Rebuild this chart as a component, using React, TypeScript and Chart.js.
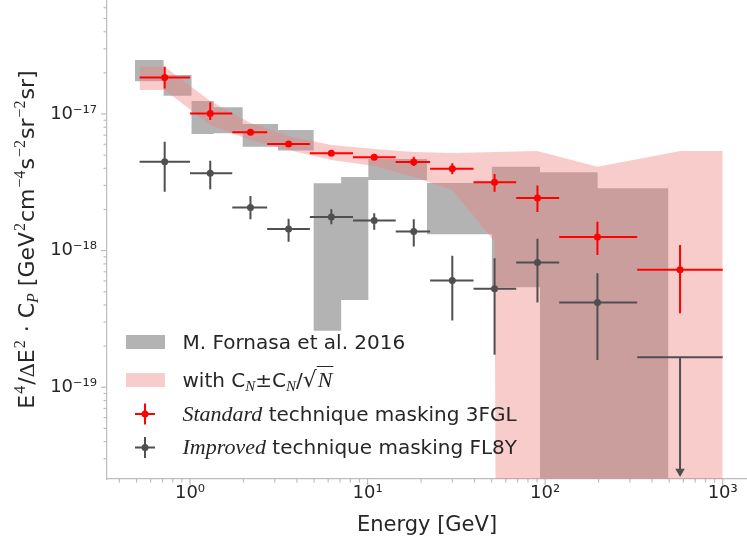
import React, { useEffect, useRef } from 'react';
import { Chart, registerables } from 'chart.js';

Chart.register(...registerables);

// ---- Energy bins (GeV) ----
const energy = [0.72, 1.3, 2.19, 3.59, 6.25, 10.9, 18.2, 30.0, 51.9, 90.5, 197, 575];
const energyLow = [0.52, 1.0, 1.73, 2.72, 4.73, 8.28, 14.4, 22.5, 39.5, 68.7, 120, 330];
const energyHigh = [1.0, 1.73, 2.72, 4.73, 8.28, 14.4, 22.5, 39.5, 68.7, 120, 330, 1000];

// ---- Standard technique masking 3FGL ----
const standardVal = [1.85e-17, 1.01e-17, 7.35e-18, 6.04e-18, 5.16e-18, 4.82e-18, 4.46e-18, 3.98e-18, 3.16e-18, 2.43e-18, 1.26e-18, 7.23e-19];
const standardLow = [1.54e-17, 9.04e-18, 7.05e-18, 5.78e-18, 4.98e-18, 4.62e-18, 4.17e-18, 3.62e-18, 2.7e-18, 1.92e-18, 9.3e-19, 3.48e-19];
const standardHigh = [2.22e-17, 1.22e-17, 7.66e-18, 6.29e-18, 5.34e-18, 5.03e-18, 4.87e-18, 4.36e-18, 3.64e-18, 3.0e-18, 1.63e-18, 1.1e-18];

// ---- Improved technique masking FL8Y ----
const improvedVal = [4.48e-18, 3.68e-18, 2.07e-18, 1.44e-18, 1.76e-18, 1.66e-18, 1.38e-18, 6.04e-19, 5.25e-19, 8.17e-19, 4.17e-19, 1.66e-19];
const improvedLow = [2.7e-18, 2.81e-18, 1.7e-18, 1.16e-18, 1.56e-18, 1.42e-18, 1.07e-18, 3.08e-19, 1.73e-19, 4.17e-19, 1.58e-19, 2.42e-20];
const improvedHigh = [6.26e-18, 4.55e-18, 2.51e-18, 1.71e-18, 2.01e-18, 1.88e-18, 1.7e-18, 9.19e-19, 8.79e-19, 1.22e-18, 6.84e-19, 1.66e-19];
const improvedUpperLimit = [false, false, false, false, false, false, false, false, false, false, false, true];

// ---- C_N ± C_N/sqrt(N) band (at bin centres); BELOW_ZERO = lower edge below zero (off the log axis) ----
const BELOW_ZERO = 1e-100;
const bandUpper = [2.22e-17, 1.245e-17, 8.59e-18, 6.9e-18, 5.93e-18, 5.55e-18, 5.27e-18, 5.19e-18, 5.27e-18, 5.36e-18, 4.11e-18, 5.36e-18];
const bandLower = [1.5e-17, 8.31e-18, 6.45e-18, 5.46e-18, 4.61e-18, 4.17e-18, 3.46e-18, 2.78e-18, 1.16e-18, BELOW_ZERO, BELOW_ZERO, BELOW_ZERO];

// ---- M. Fornasa et al. 2016 ----
const fornasaELow = [0.49, 0.71, 1.02, 1.36, 1.98, 3.13, 4.97, 7.1, 10.1, 21.6, 50.1, 93.5, 197.5];
const fornasaEHigh = [0.71, 1.02, 1.36, 1.98, 3.13, 4.97, 7.1, 10.1, 21.6, 50.1, 93.5, 197.5, 495];
const fornasaMin = [1.74e-17, 1.36e-17, 7.14e-18, 7.22e-18, 5.77e-18, 5.4e-18, 2.59e-19, 4.35e-19, 3.29e-18, 1.32e-18, 5.4e-19, BELOW_ZERO, BELOW_ZERO];
const fornasaMax = [2.48e-17, 1.93e-17, 1.245e-17, 1.12e-17, 8.45e-18, 7.64e-18, 3.11e-18, 3.46e-18, 4.68e-18, 3.12e-18, 4.11e-18, 3.75e-18, 2.86e-18];

// ---- Axes ----
const xMin = 0.3408;
const xMax = 1370;
const yMin = 2.13e-20;
const yMax = 6.83e-17;
const xTickValues = [1, 10, 100, 1000];
const xTickLabels = ['10\u2070', '10\u00B9', '10\u00B2', '10\u00B3'];
const yTickValues = [1e-19, 1e-18, 1e-17];
const yTickLabels = ['10\u207B\u00B9\u2079', '10\u207B\u00B9\u2078', '10\u207B\u00B9\u2077'];

const RED = '#ff0000';
const DARK = '#4f4f4f';
const GRAY = '#b3b3b3';
const PINK = 'rgba(240,128,128,0.4)';
const AXIS = '#bdbdbd';
const TEXT = '#262626';
const SANS = '"DejaVu Sans"';
const SERIF = '"Liberation Serif"';

function minorValues(min: number, max: number): number[] {
  const out: number[] = [];
  for (let d = Math.floor(Math.log10(min)); d <= Math.ceil(Math.log10(max)); d++) {
    for (let k = 2; k <= 9; k++) {
      const v = k * Math.pow(10, d);
      if (v >= min && v <= max) out.push(v);
    }
  }
  return out;
}

function crossData(vals: number[], lows: number[], highs: number[]) {
  const pts: any[] = [];
  for (let i = 0; i < vals.length; i++) {
    pts.push({ x: energyLow[i], y: vals[i] }, { x: energyHigh[i], y: vals[i] }, { x: energy[i], y: null });
    pts.push({ x: energy[i], y: lows[i] }, { x: energy[i], y: highs[i] }, { x: energy[i], y: null });
  }
  return pts;
}

type Seg = { t: string; font: string; dy?: number; dx?: number };

function drawRich(ctx: CanvasRenderingContext2D, segs: Seg[], x: number, y: number, align: 'left' | 'center') {
  let total = 0;
  for (const s of segs) {
    ctx.font = s.font;
    total += ctx.measureText(s.t).width + (s.dx || 0);
  }
  let cx = align === 'center' ? x - total / 2 : x;
  const pos: number[] = [];
  for (const s of segs) {
    ctx.font = s.font;
    cx += s.dx || 0;
    pos.push(cx);
    ctx.fillText(s.t, cx, y + (s.dy || 0));
    cx += ctx.measureText(s.t).width;
  }
  return pos.concat([cx]);
}

const decorPlugin = {
  id: 'decor',
  afterDraw(chart: any) {
    const ctx: CanvasRenderingContext2D = chart.ctx;
    const xs = chart.scales.x;
    const ys = chart.scales.y;
    const area = chart.chartArea;
    ctx.save();
    // tick marks
    ctx.strokeStyle = AXIS;
    ctx.lineWidth = 1.2;
    const tick = (x1: number, y1: number, x2: number, y2: number) => {
      ctx.beginPath();
      ctx.moveTo(x1, y1);
      ctx.lineTo(x2, y2);
      ctx.stroke();
    };
    for (const v of xTickValues) {
      const p = xs.getPixelForValue(v);
      tick(p, area.bottom, p, area.bottom + 6);
    }
    for (const v of minorValues(xMin, xMax)) {
      const p = xs.getPixelForValue(v);
      tick(p, area.bottom, p, area.bottom + 3.5);
    }
    for (const v of yTickValues) {
      const p = ys.getPixelForValue(v);
      tick(area.left, p, area.left - 6, p);
    }
    for (const v of minorValues(yMin, yMax)) {
      const p = ys.getPixelForValue(v);
      tick(area.left, p, area.left - 3.5, p);
    }

    // y axis title (rich text)
    ctx.fillStyle = TEXT;
    ctx.textBaseline = 'alphabetic';
    ctx.textAlign = 'left';
    ctx.save();
    ctx.translate(34, (area.top + area.bottom) / 2);
    ctx.rotate(-Math.PI / 2);
    const f = `22px ${SANS}`;
    const sup = `16px ${SERIF}`;
    drawRich(ctx, [
      { t: 'E', font: f },
      { t: '4', font: sup, dy: -9, dx: 1 },
      { t: '/', font: f, dx: 1 },
      { t: '\u0394', font: `22px ${SERIF}` },
      { t: 'E', font: f },
      { t: '2', font: sup, dy: -9, dx: 1 },
      { t: ' \u00B7 C', font: f, dx: 1 },
      { t: 'P', font: `italic 16px ${SERIF}`, dy: 4 },
      { t: ' [GeV', font: f },
      { t: '2', font: sup, dy: -9, dx: 1 },
      { t: 'cm', font: f, dx: 1 },
      { t: '\u22124', font: sup, dy: -9, dx: 1 },
      { t: 's', font: f, dx: 1 },
      { t: '\u22122', font: sup, dy: -9, dx: 1 },
      { t: 'sr', font: f, dx: 1 },
      { t: '\u22122', font: sup, dy: -9, dx: 1 },
      { t: 'sr]', font: f, dx: 1 },
    ], 0, 0, 'center');
    ctx.restore();

    // legend
    const lx = 126;
    const tx = 182.5;
    const lf = `20px ${SANS}`;
    ctx.fillStyle = GRAY;
    ctx.fillRect(lx, 335, 39, 14);
    ctx.fillStyle = PINK;
    ctx.fillRect(lx, 373, 39, 14);
    ctx.fillStyle = TEXT;
    ctx.font = lf;
    ctx.fillText('M. Fornasa et al. 2016', tx, 349.3);
    const pos = drawRich(ctx, [
      { t: 'with C', font: lf },
      { t: 'N', font: `italic 15px ${SERIF}`, dy: 4 },
      { t: '\u00B1C', font: lf },
      { t: 'N', font: `italic 15px ${SERIF}`, dy: 4 },
      { t: '/', font: lf },
      { t: '\u221A', font: `22px ${SANS}` },
      { t: 'N', font: `italic 22px ${SERIF}`, dx: 1 },
    ], tx, 387, 'left');
    ctx.strokeStyle = TEXT;
    ctx.lineWidth = 1;
    ctx.beginPath();
    ctx.moveTo(pos[6] - 1, 387 - 20.5);
    ctx.lineTo(pos[7] + 1, 387 - 20.5);
    ctx.stroke();

    const cross = (cx: number, cy: number, color: string) => {
      ctx.strokeStyle = color;
      ctx.lineWidth = 2;
      ctx.beginPath();
      ctx.moveTo(cx - 10, cy);
      ctx.lineTo(cx + 10, cy);
      ctx.moveTo(cx, cy - 10.5);
      ctx.lineTo(cx, cy + 10.5);
      ctx.stroke();
      ctx.fillStyle = color;
      ctx.beginPath();
      ctx.arc(cx, cy, 3.5, 0, Math.PI * 2);
      ctx.fill();
    };
    cross(145, 414, RED);
    cross(145, 447.5, DARK);
    ctx.fillStyle = TEXT;
    drawRich(ctx, [
      { t: 'Standard', font: `italic 22px ${SERIF}` },
      { t: ' technique masking 3FGL', font: lf },
    ], tx, 420.7, 'left');
    drawRich(ctx, [
      { t: 'Improved', font: `italic 22px ${SERIF}` },
      { t: ' technique masking FL8Y', font: lf },
    ], tx, 454, 'left');
    ctx.restore();
  },
};

function matchLabel(values: number[], labels: string[], v: number) {
  const i = values.findIndex((t) => Math.abs(Math.log10(t) - Math.log10(v)) < 1e-6);
  return i >= 0 ? labels[i] : '';
}

export default function App() {
  const ref = useRef<HTMLCanvasElement | null>(null);

  useEffect(() => {
    if (!ref.current) return;
    Chart.defaults.font.family = SANS;
    const datasets: any[] = [];

    // error bars
    datasets.push({
      data: crossData(standardVal, standardLow, standardHigh),
      borderColor: RED, borderWidth: 2, pointRadius: 0, showLine: true, fill: false, tension: 0, order: 1,
    });
    datasets.push({
      data: crossData(improvedVal, improvedLow, improvedHigh),
      borderColor: DARK, borderWidth: 2, pointRadius: 0, showLine: true, fill: false, tension: 0, order: 1,
    });
    // points
    datasets.push({
      data: energy.map((x, i) => ({ x, y: standardVal[i] })),
      showLine: false, pointRadius: 3.5, pointBackgroundColor: RED, pointBorderWidth: 0, order: 0,
    });
    datasets.push({
      data: energy.map((x, i) => ({ x, y: improvedUpperLimit[i] ? null : improvedVal[i] })),
      showLine: false, pointRadius: 3.5, pointBackgroundColor: DARK, pointBorderWidth: 0, order: 0,
    });
    // upper-limit arrow head
    datasets.push({
      data: energy.map((x, i) => ({ x, y: improvedUpperLimit[i] ? improvedLow[i] : null })),
      showLine: false, pointStyle: 'triangle', rotation: 180, pointRadius: 5.5,
      pointBackgroundColor: DARK, pointBorderWidth: 0, order: 0,
    });
    // band
    const bandIdx = datasets.length;
    const bx = [energyLow[0], ...energy, energyHigh[energyHigh.length - 1]];
    const bu = [bandUpper[0], ...bandUpper, bandUpper[bandUpper.length - 1]];
    const bl = [bandLower[0], ...bandLower, bandLower[bandLower.length - 1]];
    datasets.push({
      data: bx.map((x, i) => ({ x, y: bu[i] })),
      borderWidth: 0, borderColor: 'rgba(0,0,0,0)', pointRadius: 0, showLine: true, tension: 0,
      fill: bandIdx + 1, backgroundColor: PINK, order: 2,
    });
    datasets.push({
      data: bx.map((x, i) => ({ x, y: bl[i] })),
      borderWidth: 0, borderColor: 'rgba(0,0,0,0)', pointRadius: 0, showLine: true, tension: 0,
      fill: false, order: 2,
    });
    // Fornasa steps: upper edge filled down to lower edge
    const fIdx = datasets.length;
    const fx = [...fornasaELow, fornasaEHigh[fornasaEHigh.length - 1]];
    const fu = [...fornasaMax, fornasaMax[fornasaMax.length - 1]];
    const fl = [...fornasaMin, fornasaMin[fornasaMin.length - 1]];
    datasets.push({
      data: fx.map((x, i) => ({ x, y: fu[i] })),
      borderWidth: 0, borderColor: 'rgba(0,0,0,0)', pointRadius: 0, showLine: true, stepped: 'before',
      fill: fIdx + 1, backgroundColor: GRAY, order: 3,
    });
    datasets.push({
      data: fx.map((x, i) => ({ x, y: fl[i] })),
      borderWidth: 0, borderColor: 'rgba(0,0,0,0)', pointRadius: 0, showLine: true, stepped: 'before',
      fill: false, order: 3,
    });

    const chart = new Chart(ref.current, {
      type: 'line',
      data: { datasets },
      plugins: [decorPlugin],
      options: {
        animation: false,
        responsive: true,
        maintainAspectRatio: false,
        layout: { padding: 0, autoPadding: false },
        plugins: { legend: { display: false }, tooltip: { enabled: false } },
        scales: {
          x: {
            type: 'logarithmic',
            bounds: 'data',
            min: xMin,
            max: xMax,
            grid: { display: false, drawTicks: false },
            border: { display: true, color: AXIS, width: 1.2 },
            afterBuildTicks: (s: any) => { s.ticks = xTickValues.map((v) => ({ value: v })); },
            afterFit: (s: any) => { s.height = 69; s.paddingLeft = 0; s.paddingRight = 0; },
            ticks: {
              autoSkip: false, maxRotation: 0, padding: 4, color: TEXT,
              font: { size: 18, family: SANS },
              callback: (v: any) => matchLabel(xTickValues, xTickLabels, Number(v)),
            },
            title: {
              display: true, text: 'Energy [GeV]', color: TEXT,
              font: { size: 21, family: SANS }, padding: { top: 0, bottom: 10 },
            },
          },
          y: {
            type: 'logarithmic',
            bounds: 'data',
            min: yMin,
            max: yMax,
            grid: { display: false, drawTicks: false },
            border: { display: true, color: AXIS, width: 1.2 },
            afterBuildTicks: (s: any) => { s.ticks = yTickValues.map((v) => ({ value: v })); },
            afterFit: (s: any) => { s.width = 107; s.paddingTop = 0; s.paddingBottom = 0; },
            ticks: {
              autoSkip: false, padding: 10, color: TEXT,
              font: { size: 18, family: SANS },
              callback: (v: any) => matchLabel(yTickValues, yTickLabels, Number(v)),
            },
          },
        },
      } as any,
    });
    return () => chart.destroy();
  }, []);

  return (
    <div style={{ position: 'fixed', left: 0, top: 0, width: 747, height: 548, background: '#fff' }}>
      <canvas ref={ref} />
    </div>
  );
}
